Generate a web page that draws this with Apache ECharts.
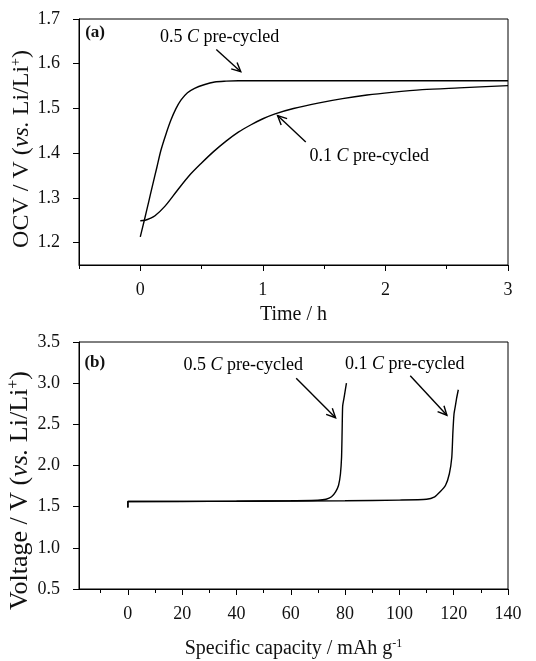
<!DOCTYPE html>
<html>
<head>
<meta charset="utf-8">
<script src="https://cdn.jsdelivr.net/npm/echarts@6/dist/echarts.min.js"></script>
<style>html,body{margin:0;padding:0;background:#fff}#c{width:536px;height:661px}</style>
</head>
<body>
<div id="c"></div>
<script>
// ---- Panel (a): OCV vs time ----
const timeTicksMajor = [0, 1, 2, 3];
const timeTicksMinor = [-0.5, 0.5, 1.5, 2.5];
const ocvTicks = [1.2, 1.3, 1.4, 1.5, 1.6, 1.7];
const ocv05C = [[0,1.213],[0.033,1.25],[0.07,1.293],[0.1,1.328],[0.135,1.368],[0.169,1.407],[0.21,1.443],[0.25,1.474],[0.29,1.499],[0.333,1.519],[0.385,1.535],[0.443,1.545],[0.52,1.553],[0.607,1.559],[0.7,1.561],[0.8,1.562],[1.2,1.562],[2,1.562],[3,1.562]];
const ocv01C = [[0,1.249],[0.04,1.25],[0.08,1.254],[0.12,1.26],[0.2,1.281],[0.3,1.316],[0.4,1.35],[0.5,1.378],[0.6,1.404],[0.7,1.427],[0.8,1.447],[0.9,1.463],[1.0,1.477],[1.1,1.488],[1.25,1.5],[1.45,1.512],[1.65,1.522],[1.85,1.53],[2.05,1.536],[2.3,1.542],[2.6,1.546],[3,1.551]];

// ---- Panel (b): voltage vs specific capacity ----
const capTicksMajor = [0, 20, 40, 60, 80, 100, 120, 140];
const capTicksMinor = [-10, 10, 30, 50, 70, 90, 110, 130];
const voltTicks = [0.5, 1.0, 1.5, 2.0, 2.5, 3.0, 3.5];
const volt05C = [[0,1.49],[0,1.562],[20,1.563],[40,1.566],[60,1.572],[70,1.578],[73,1.59],[75,1.62],[76.5,1.68],[77.6,1.76],[78.3,1.9],[78.7,2.1],[78.9,2.4],[79.1,2.72],[79.5,2.8],[80,2.9],[80.5,3.0]];
const volt01C = [[0,1.49],[0,1.562],[40,1.565],[80,1.572],[100,1.58],[110,1.59],[113,1.62],[115,1.68],[117,1.76],[118.4,1.9],[119.3,2.1],[119.7,2.4],[120.1,2.62],[120.6,2.72],[121.1,2.82],[121.7,2.92]];

const FONT = 'Liberation Serif';
const chart = echarts.init(document.getElementById('c'), null, {renderer: 'canvas'});

function richFor(size) {
  return {
    n: {fontFamily: FONT, fontSize: size, color: '#111'},
    i: {fontFamily: FONT, fontSize: size, fontStyle: 'italic', color: '#111'},
    s: {fontFamily: FONT, fontSize: Math.round(size * 0.6), color: '#111', verticalAlign: 'top', padding: [0, 0, Math.round(size * 0.5), 0]}
  };
}

function majorX(grid, min, max, ticks, nameText, nameGap) {
  return {
    type: 'value', gridIndex: grid, min: min, max: max, position: 'bottom',
    axisLine: {show: true, onZero: false, lineStyle: {color: '#000', width: 1}},
    axisTick: {show: true, length: 6, lineStyle: {color: '#000'}, customValues: ticks},
    axisLabel: {customValues: ticks, fontFamily: FONT, fontSize: 18, color: '#111', margin: 16},
    splitLine: {show: false},
    name: nameText, nameLocation: 'middle', nameGap: nameGap,
    nameTextStyle: {rich: richFor(20)}
  };
}
function minorX(grid, min, max, ticks) {
  return {
    type: 'value', gridIndex: grid, min: min, max: max, position: 'bottom',
    axisLine: {show: false, onZero: false},
    axisTick: {show: true, length: 4, lineStyle: {color: '#000'}, customValues: ticks},
    axisLabel: {show: false},
    splitLine: {show: false}
  };
}
function yAx(grid, min, max, ticks, nameText, nameGap, nameSize, shift) {
  return {
    type: 'value', gridIndex: grid, min: min, max: max, position: 'left',
    axisLine: {show: true, onZero: false, lineStyle: {color: '#000', width: 1}},
    axisTick: {show: true, length: 6, lineStyle: {color: '#000'}, customValues: ticks},
    axisLabel: {customValues: ticks, fontFamily: FONT, fontSize: 18, color: '#111', margin: 19,
      formatter: v => Number(v).toFixed(1)},
    splitLine: {show: false},
    name: nameText, nameLocation: 'middle', nameGap: nameGap, nameRotate: 90, nameMoveOverlap: false,
    nameTextStyle: {rich: richFor(nameSize), padding: [0, shift, 0, 0]}
  };
}

const lineStyle = {color: '#000', width: 1.4};

chart.setOption({
  animation: false,
  backgroundColor: '#fff',
  grid: [
    {left: 79, right: 28, top: 19, height: 246, containLabel: false, outerBoundsMode: 'none', show: true, borderColor: '#000', borderWidth: 1, backgroundColor: 'transparent'},
    {left: 79, right: 28, top: 342, height: 247, containLabel: false, outerBoundsMode: 'none', show: true, borderColor: '#000', borderWidth: 1, backgroundColor: 'transparent'}
  ],
  xAxis: [
    majorX(0, -0.5, 3, timeTicksMajor, '{n|Time / h}', 40),
    minorX(0, -0.5, 3, timeTicksMinor),
    majorX(1, -18, 140, capTicksMajor, '{n|Specific capacity / mAh g}{s|-1}', 49),
    minorX(1, -18, 140, capTicksMinor)
  ],
  yAxis: [
    yAx(0, 1.15, 1.7, ocvTicks, '{n|OCV / V (}{i|vs.}{n| Li/Li}{s|+}{n|)}', 44, 24, 14),
    yAx(1, 0.5, 3.5, voltTicks, '{n|Voltage / V (}{i|vs.}{n| Li/Li}{s|+}{n|)}', 44, 26, 50)
  ],
  series: [
    {name: '0.5 C (a)', type: 'line', xAxisIndex: 0, yAxisIndex: 0, data: ocv05C, showSymbol: false, smooth: 0.3, lineStyle: lineStyle},
    {name: '0.1 C (a)', type: 'line', xAxisIndex: 0, yAxisIndex: 0, data: ocv01C, showSymbol: false, smooth: 0.3, lineStyle: lineStyle},
    {name: '0.5 C (b)', type: 'line', xAxisIndex: 2, yAxisIndex: 1, data: volt05C, showSymbol: false, smooth: 0.2, lineStyle: lineStyle},
    {name: '0.1 C (b)', type: 'line', xAxisIndex: 2, yAxisIndex: 1, data: volt01C, showSymbol: false, smooth: 0.2, lineStyle: lineStyle}
  ]
});

// ---- Annotations (placed in data coordinates) ----
const annA = [
  {label: '0.5', at: [0.16, 1.66], tail: [0.62, 1.632], tip: [0.82, 1.582]},
  {label: '0.1', at: [1.38, 1.394], tail: [1.35, 1.425], tip: [1.12, 1.484]}
];
const annB = [
  {label: '0.5', at: [20.5, 3.22], tail: [62, 3.06], tip: [76.5, 2.58]},
  {label: '0.1', at: [80, 3.23], tail: [104, 3.09], tip: [117.5, 2.61]}
];

const annRich = {
  n: {fontFamily: FONT, fontSize: 18, color: '#111'},
  i: {fontFamily: FONT, fontSize: 18, fontStyle: 'italic', color: '#111'}
};
const graphics = [];
function addAnn(gridIndex, a) {
  const p = chart.convertToPixel({gridIndex: gridIndex}, a.at);
  graphics.push({type: 'text', x: p[0], y: p[1], style: {
    text: '{n|' + a.label + ' }{i|C}{n| pre-cycled}', rich: annRich, verticalAlign: 'middle', align: 'left'}});
  const t = chart.convertToPixel({gridIndex: gridIndex}, a.tail);
  const h = chart.convertToPixel({gridIndex: gridIndex}, a.tip);
  graphics.push({type: 'line', shape: {x1: t[0], y1: t[1], x2: h[0], y2: h[1]}, style: {stroke: '#000', lineWidth: 1.4}});
  const ang = Math.atan2(h[1] - t[1], h[0] - t[0]);
  const L = 10, spread = 0.45;
  const a1 = [h[0] - L * Math.cos(ang - spread), h[1] - L * Math.sin(ang - spread)];
  const a2 = [h[0] - L * Math.cos(ang + spread), h[1] - L * Math.sin(ang + spread)];
  graphics.push({type: 'polyline', shape: {points: [a1, h, a2]}, style: {stroke: '#000', lineWidth: 1.4, fill: null}});
}
annA.forEach(a => addAnn(0, a));
annB.forEach(a => addAnn(1, a));

const pa = chart.convertToPixel({gridIndex: 0}, [-0.45, 1.67]);
const pb = chart.convertToPixel({gridIndex: 1}, [-16, 3.25]);
graphics.push({type: 'text', x: pa[0], y: pa[1], style: {text: '(a)', fontFamily: FONT, fontSize: 17, fontWeight: 'bold', fill: '#111', verticalAlign: 'middle'}});
graphics.push({type: 'text', x: pb[0], y: pb[1], style: {text: '(b)', fontFamily: FONT, fontSize: 17, fontWeight: 'bold', fill: '#111', verticalAlign: 'middle'}});

chart.setOption({graphic: graphics});
</script>
</body>
</html>
